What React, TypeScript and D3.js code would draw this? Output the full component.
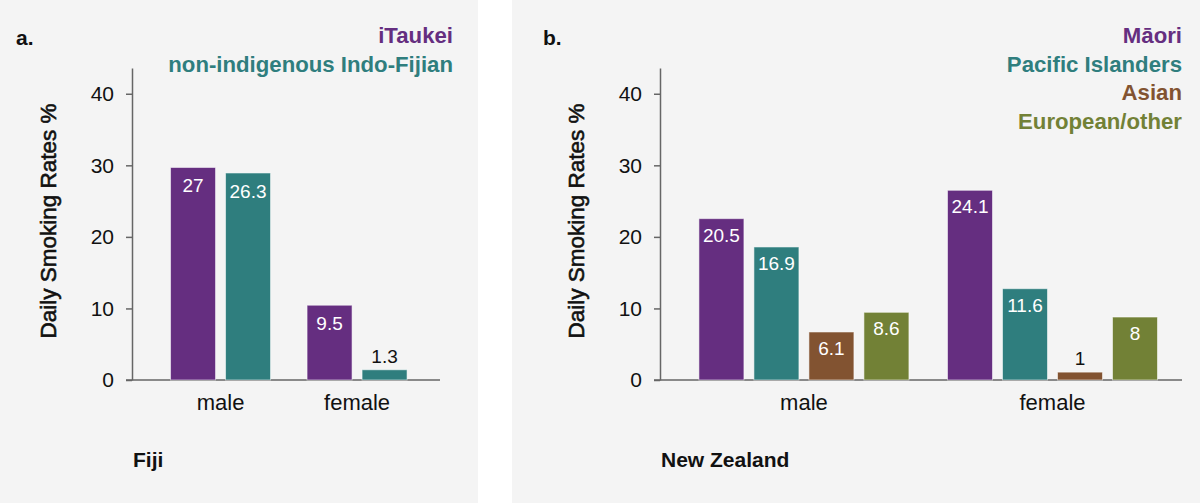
import React, { useRef, useEffect } from 'react';
import * as d3 from 'd3';

// data
const sexes = ['male', 'female'];
const yTicks = [0, 10, 20, 30, 40];

const fijiGroups = ['iTaukei', 'non-indigenous Indo-Fijian'];
const fijiITaukei = [27, 9.5];
const fijiIndoFijian = [26.3, 1.3];

const nzGroups = ['Māori', 'Pacific Islanders', 'Asian', 'European/other'];
const nzMaori = [20.5, 24.1];
const nzPacific = [16.9, 11.6];
const nzAsian = [6.1, 1];
const nzEuropean = [8.6, 8];

const groupColors = ['#652e80', '#2f7e7e', '#825331', '#728136'];

// the original drew the bars 10% taller than their printed values
const barStretch = 1.1;

const FONT = '"Liberation Sans", Arial, Helvetica, sans-serif';

const App = () => {
  const Svg = useRef<SVGSVGElement>(null);

  useEffect(() => {
    const svg = d3.select(Svg.current);
    svg.selectAll('*').remove();

    const drawPanel = (opts: {
      left: number;
      right: number;
      axisX: number;
      axisEnd: number;
      bandPad: number;
      bandAlign: number;
      letter: string;
      country: string;
      groups: string[];
      series: number[][];
      labelInset: number;
    }) => {
      const g = svg.append('g').attr('font-family', FONT);

      g.append('rect')
        .attr('x', opts.left)
        .attr('y', 0)
        .attr('width', opts.right - opts.left)
        .attr('height', 503)
        .attr('fill', '#f4f4f4');

      const y = d3.scaleLinear().domain([0, 43.6]).range([380, 68]);

      const x0 = d3
        .scaleBand()
        .domain(sexes)
        .range([opts.axisX, opts.axisEnd])
        .paddingInner(0)
        .paddingOuter(opts.bandPad)
        .align(opts.bandAlign);

      const barW = 45;
      const gap = 10;
      const n = opts.groups.length;
      const groupW = n * barW + (n - 1) * gap;
      const x1 = d3
        .scaleBand()
        .domain(opts.groups)
        .range([-groupW / 2, groupW / 2])
        .paddingInner(gap / (barW + gap));

      // y axis
      const yAxis = d3
        .axisLeft(y)
        .tickValues(yTicks)
        .tickSize(6)
        .tickSizeOuter(0)
        .tickPadding(12);
      const ya = g
        .append('g')
        .attr('transform', `translate(${opts.axisX},0)`)
        .call(yAxis);
      ya.select('.domain').attr('stroke', '#666').attr('stroke-width', 1.5);
      ya.selectAll('.tick line').attr('stroke', '#666').attr('stroke-width', 1.5);
      ya.selectAll('.tick text')
        .attr('font-family', FONT)
        .attr('font-size', 21)
        .attr('fill', '#111');

      // x axis baseline
      g.append('line')
        .attr('x1', opts.axisX - 6)
        .attr('x2', opts.axisEnd)
        .attr('y1', y(0))
        .attr('y2', y(0))
        .attr('stroke', '#666')
        .attr('stroke-width', 1.5);

      // category labels
      g.selectAll('text.cat')
        .data(sexes)
        .enter()
        .append('text')
        .attr('class', 'cat')
        .attr('x', (d) => (x0(d) as number) + x0.bandwidth() / 2)
        .attr('y', 410)
        .attr('text-anchor', 'middle')
        .attr('font-size', 22)
        .attr('fill', '#111')
        .text((d) => d);

      // bars
      const rows = opts.groups.flatMap((grp, gi) =>
        sexes.map((sex, si) => ({ grp, gi, sex, v: opts.series[gi][si] }))
      );
      const bx = (d: any) =>
        (x0(d.sex) as number) + x0.bandwidth() / 2 + (x1(d.grp) as number);

      g.selectAll('rect.bar')
        .data(rows)
        .enter()
        .append('rect')
        .attr('class', 'bar')
        .attr('x', bx)
        .attr('y', (d) => y(d.v * barStretch))
        .attr('width', x1.bandwidth())
        .attr('height', (d) => y(0) - y(d.v * barStretch))
        .attr('fill', (d) => groupColors[d.gi])
        .attr('stroke', 'rgba(255,255,255,0.55)')
        .attr('stroke-width', 1);

      g.selectAll('text.val')
        .data(rows)
        .enter()
        .append('text')
        .attr('class', 'val')
        .attr('x', (d) => bx(d) + x1.bandwidth() / 2)
        .attr('y', (d) => {
          const top = y(d.v * barStretch);
          return y(0) - top > 30 ? top + opts.labelInset : top - 7;
        })
        .attr('text-anchor', 'middle')
        .attr('font-size', 19)
        .attr('fill', (d) => (y(0) - y(d.v * barStretch) > 30 ? '#fff' : '#111'))
        .text((d) => String(d.v));

      // y title (slightly heavier, like a medium weight)
      g.append('text')
        .attr('transform', `translate(${opts.axisX - 76},221) rotate(-90)`)
        .attr('text-anchor', 'middle')
        .attr('font-size', 22.5)
        .attr('fill', '#111')
        .attr('stroke', '#111')
        .attr('stroke-width', 0.6)
        .text('Daily Smoking Rates %');

      // panel letter + country
      g.append('text')
        .attr('x', opts.left + 16 + (opts.left > 0 ? 15 : 0))
        .attr('y', 45)
        .attr('font-size', 21)
        .attr('font-weight', 'bold')
        .attr('fill', '#111')
        .text(opts.letter);

      g.append('text')
        .attr('x', opts.axisX + 1)
        .attr('y', 467)
        .attr('font-size', 21)
        .attr('font-weight', 'bold')
        .attr('fill', '#111')
        .text(opts.country);

      // legend
      g.selectAll('text.leg')
        .data(opts.groups)
        .enter()
        .append('text')
        .attr('class', 'leg')
        .attr('x', opts.axisEnd + (opts.left > 0 ? 0 : 13))
        .attr('y', (d, i) => 43 + i * 28.5)
        .attr('text-anchor', 'end')
        .attr('font-size', 22.2)
        .attr('font-weight', 'bold')
        .attr('fill', (d, i) => groupColors[i])
        .text((d) => d);
    };

    drawPanel({
      left: 0,
      right: 478,
      axisX: 132,
      axisEnd: 440,
      bandPad: 0.128,
      bandAlign: 0.58,
      letter: 'a.',
      country: 'Fiji',
      groups: fijiGroups,
      series: [fijiITaukei, fijiIndoFijian],
      labelInset: 25,
    });

    drawPanel({
      left: 512,
      right: 1200,
      axisX: 660,
      axisEnd: 1182,
      bandPad: 0.05,
      bandAlign: 0.79,
      letter: 'b.',
      country: 'New Zealand',
      groups: nzGroups,
      series: [nzMaori, nzPacific, nzAsian, nzEuropean],
      labelInset: 23,
    });
  }, []);

  return (
    <svg
      ref={Svg}
      width={1200}
      height={503}
      style={{ position: 'absolute', left: 0, top: 0, background: '#fff' }}
    />
  );
};

export default App;
